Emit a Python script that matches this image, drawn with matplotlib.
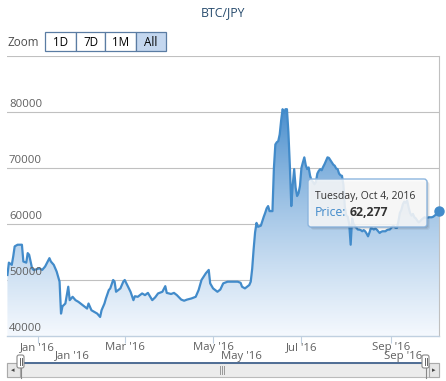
import numpy as np
import matplotlib
matplotlib.use("Agg")
import matplotlib.pyplot as plt
import matplotlib.dates as mdates
from matplotlib.patches import FancyBboxPatch, Rectangle

plt.rcParams['font.family'] = ['Open Sans', 'DejaVu Sans']

# days counted from 2016-01-01, price in JPY
days_from_jan1 = [-21, -20, -18, -17, -16, -14, -11, -10, -8, -7, -6, -4, -3, -1, 1, 3, 5, 8, 9, 11,
                  13, 15, 16, 17, 19, 21, 22, 24, 26, 28, 31, 34, 35, 37, 39, 41, 43, 44, 46, 47,
                  49, 50, 52, 53, 54, 57, 59, 60, 64, 66, 67, 69, 72, 74, 76, 79, 81, 83, 86, 88,
                  89, 92, 94, 96, 99, 101, 103, 106, 109, 111, 113, 116, 118, 119, 121, 124, 126, 128, 131, 134,
                  138, 140, 141, 143, 146, 147, 148, 149, 150, 151, 152, 153, 154, 156, 157, 158, 159, 160, 162, 163,
                  164, 165, 166, 167, 168, 169, 170, 171, 172, 173, 174, 175, 176, 177, 178, 179, 180, 181, 182, 183,
                  184, 185, 186, 187, 188, 189, 190, 191, 192, 193, 194, 195, 196, 197, 198, 199, 200, 201, 202, 203,
                  204, 205, 206, 207, 208, 209, 210, 211, 212, 213, 214, 215, 216, 217, 218, 219, 220, 221, 222, 223,
                  224, 225, 226, 227, 228, 229, 230, 231, 232, 233, 234, 235, 236, 237, 238, 239, 240, 241, 242, 243,
                  244, 245, 246, 247, 248, 249, 250, 251, 252, 253, 254, 255, 256, 257, 258, 259, 260, 261, 262, 263,
                  264, 265, 266, 267, 268, 269, 270, 271, 272, 273, 274, 275, 276, 277]
prices = [50900, 53100, 52700, 54200, 56000, 56300, 56300, 53300, 53100, 54800, 54500, 52100, 51800, 51900, 52100, 51800, 52400, 53900, 53300, 52700,
          51500, 49700, 44000, 45300, 45800, 48800, 46400, 47000, 46400, 46100, 45500, 44900, 45800, 44600, 44300, 44000, 43400, 44600, 45800, 46700,
          48200, 48500, 50000, 49700, 47900, 48500, 49700, 50000, 47900, 46400, 47100, 47000, 47600, 47300, 47700, 46400, 46900, 47600, 47900, 48900,
          47700, 47500, 47700, 47300, 46500, 46300, 46500, 46700, 47000, 48200, 50000, 51200, 51800, 49400, 48500, 47900, 48300, 49400, 49700, 49700,
          49700, 49500, 48800, 48500, 49100, 49700, 52000, 55500, 58500, 60200, 59500, 59600, 59700, 61300, 62000, 62800, 63200, 62300, 62300, 70000,
          74200, 74600, 74800, 76000, 78500, 80500, 79900, 80500, 80500, 76400, 70500, 63200, 67000, 69800, 66500, 65000, 65500, 66800, 70000, 71000,
          71900, 70500, 69800, 70100, 68600, 67800, 67500, 67100, 67500, 69000, 69500, 69800, 69600, 70200, 70700, 71300, 71900, 71800, 71400, 71000,
          70600, 70400, 69900, 69800, 69000, 68700, 68600, 67000, 63000, 61500, 61300, 60000, 56300, 61000, 60000, 59600, 59300, 59000, 59000, 58900,
          58700, 58900, 58700, 58300, 57800, 58500, 59300, 59200, 59000, 59200, 59000, 58700, 58400, 58600, 58700, 58700, 58700, 58900, 59000, 59000,
          59300, 59600, 59600, 59300, 59300, 60500, 62000, 62500, 63500, 64000, 63800, 64200, 63000, 62000, 61500, 61800, 61200, 61000, 60600, 60300,
          60500, 60800, 61000, 61200, 61100, 61100, 61200, 61200, 61200, 61300, 61500, 61700, 62000, 62277]

y_ticks = [40000, 50000, 60000, 70000, 80000]
grid_levels = [50000, 60000, 70000, 80000, 90000]
x_tick_dates = ['2016-01-01', '2016-03-01', '2016-05-01', '2016-07-01', '2016-09-01']
x_tick_labels = ["Jan '16", "Mar '16", "May '16", "Jul '16", "Sep '16"]
nav_labels = ["Jan '16", "May '16", "Sep '16"]
zoom_buttons = ['1D', '7D', '1M', 'All']

dates = np.datetime64('2016-01-01') + np.array(days_from_jan1).astype('timedelta64[D]')
dates = dates.astype('datetime64[s]').astype(object)
prices = np.array(prices)

W, H = 446, 381
line_color = '#428bca'
fig = plt.figure(figsize=(W / 100, H / 100), dpi=100)

ax = fig.add_axes([7 / W, 1 - 336 / H, 432 / W, 280 / H])
x0 = mdates.date2num(np.datetime64('2016-01-01').astype(object)) - 21.3
x1 = mdates.date2num(dates[-1])
for s in ax.spines.values():
    s.set_visible(False)
ax.set_yticks([])

for g in grid_levels:
    ax.axhline(g, color='#C0C0C0', lw=0.8, zorder=1)
ax.axhline(40000, color='#C0D0E0', lw=1.0, zorder=5, clip_on=False)

# gradient area under the line
poly = ax.fill_between(dates, prices, 40000, color='none', lw=0)
tt = np.linspace(0, 1, 256)[:, None] ** 0.75
top = np.array([62, 135, 202]) / 255
bottom = np.array([0.96, 0.975, 0.995])
img = top[None, None, :] * (1 - tt[:, :, None]) + bottom[None, None, :] * tt[:, :, None]
im = ax.imshow(img, extent=[x0, x1, 40000, 81000], aspect='auto', origin='upper', zorder=2)
im.set_clip_path(poly.get_paths()[0], transform=ax.transData)
ax.set_xlim(x0, x1)
ax.set_ylim(40000, 90000)

ax.plot(dates, prices, color=line_color, lw=1.6, zorder=3, solid_joinstyle='round')
ax.axvline(dates[-1], color='#C0C0C0', lw=0.8, zorder=4, clip_on=False)
ax.plot([dates[-1]], [prices[-1]], 'o', ms=6.5, color=line_color, zorder=6, clip_on=False)

for v in y_ticks:
    ax.annotate(str(v), xy=(0, v), xycoords=('axes fraction', 'data'), xytext=(2, 2),
                textcoords='offset pixels', ha='left', va='bottom', fontsize=8.2, color='#606060')

tick_pos = [np.datetime64(d).astype(object) for d in x_tick_dates]
ax.set_xticks(tick_pos)
ax.set_xticklabels(x_tick_labels)
ax.tick_params(axis='x', length=5, width=0.8, color='#C0D0E0', pad=-0.5, labelsize=8.2, labelcolor='#606060')

# overlay in pixel coordinates
ov = fig.add_axes([0, 0, 1, 1])
ov.set_xlim(0, W)
ov.set_ylim(H, 0)
ov.axis('off')
ov.patch.set_alpha(0)

ov.text(223, 13, 'BTC/JPY', ha='center', va='center', fontsize=8.8, color='#274b6d')

# zoom buttons
ov.text(7, 43, 'Zoom', ha='left', va='center', fontsize=8.4, color='#4d4d4d')
bx = [45, 76, 105, 136, 166]
for i, lab in enumerate(zoom_buttons):
    fc = '#c4d7ef' if lab == 'All' else 'white'
    ov.add_patch(Rectangle((bx[i], 32), bx[i + 1] - bx[i], 19, facecolor=fc,
                           edgecolor='#5a7ca3', lw=0.9))
    ov.text((bx[i] + bx[i + 1]) / 2, 42, lab, ha='center', va='center', fontsize=8.4, color='black')

# tooltip
for k, a in [(3, 0.05), (2, 0.07), (1, 0.1)]:
    ov.add_patch(FancyBboxPatch((308 + k, 179 + k), 119, 48, boxstyle='round,pad=0,rounding_size=3',
                                facecolor='black', alpha=a, lw=0, zorder=9))
ov.add_patch(FancyBboxPatch((308, 179), 119, 48, boxstyle='round,pad=0,rounding_size=3',
                            facecolor='white', alpha=0.85, edgecolor='none', zorder=10))
ov.add_patch(FancyBboxPatch((308, 179), 119, 48, boxstyle='round,pad=0,rounding_size=3',
                            facecolor='none', edgecolor='#8cb5de', lw=1.0, zorder=11))
ov.text(315, 197, 'Tuesday, Oct 4, 2016', ha='left', va='center', fontsize=7.5, color='#333333', zorder=12)
ov.text(315, 212, 'Price:', ha='left', va='center', fontsize=8.8, color=line_color, zorder=12)
ov.text(350, 212, f'{prices[-1]:,}', ha='left', va='center', fontsize=8.8, color='#333333',
        fontweight='bold', zorder=12)

# navigator labels
for lab, xp in zip(nav_labels, [72, 241, 403]):
    ov.text(xp, 356, lab, ha='center', va='center', fontsize=8.2, color='#606060', zorder=5)

# scrollbar
ov.add_patch(Rectangle((7, 363), 432, 14, facecolor='#ececec', edgecolor='#bbbbbb', lw=0.8, zorder=6))
ov.add_patch(Rectangle((7, 363), 13, 14, facecolor='#e6e6e6', edgecolor='#aaaaaa', lw=0.8, zorder=7))
ov.add_patch(Rectangle((429, 363), 10, 14, facecolor='#e6e6e6', edgecolor='#aaaaaa', lw=0.8, zorder=7))
ov.text(13, 370.5, '\u25c2', ha='center', va='center', fontsize=5, color='#444444', zorder=8)
ov.text(434, 370.5, '\u25b8', ha='center', va='center', fontsize=5, color='#444444', zorder=8)
ov.plot([20, 425], [363, 363], color='#4f6d94', lw=1.4, zorder=8)
for gx in [220, 222, 224]:
    ov.plot([gx, gx], [366, 374], color='#999999', lw=0.7, zorder=8)
for hx in [17, 422]:
    ov.plot([hx + 3.5, hx + 3.5], [366, 378], color='#888888', lw=0.8, zorder=8)
    ov.add_patch(FancyBboxPatch((hx, 355), 7, 13, boxstyle='round,pad=0,rounding_size=2',
                                facecolor='white', edgecolor='#888888', lw=0.8, zorder=9))
    ov.plot([hx + 2.5, hx + 2.5], [358, 365], color='#666666', lw=0.7, zorder=10)
    ov.plot([hx + 4.5, hx + 4.5], [358, 365], color='#666666', lw=0.7, zorder=10)

fig.savefig('out.png', dpi=100)
